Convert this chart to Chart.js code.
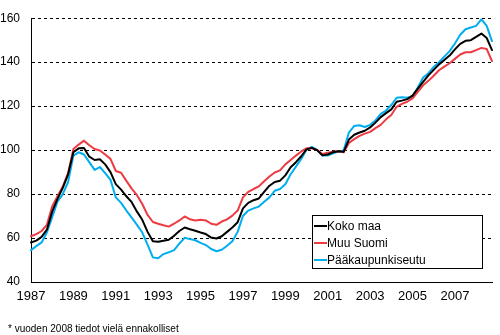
<!DOCTYPE html>
<html>
<head>
<meta charset="utf-8">
<script src="https://cdn.jsdelivr.net/npm/chart.js@4/dist/chart.umd.min.js"></script>
<style>
  html, body { margin: 0; padding: 0; background: #fff; overflow: hidden; }
  #wrap { position: relative; width: 500px; height: 335px; }
  #c { display: block; }
  #note { position: absolute; left: 8px; top: 323px; font: 10px Arial, "Liberation Sans", sans-serif; color: #000; white-space: nowrap; line-height: 12px; }
</style>
</head>
<body>
<div id="wrap">
  <canvas id="c" width="500" height="335"></canvas>
  <div id="note">* vuoden 2008 tiedot vielä ennakolliset</div>
</div>
<script>
// Vanhojen asuntojen hintaindeksi, neljännesvuosittain 1987–2008 (2000 = 100)
const firstYear = 1987;
const lastYear = 2008;
const tickYears = ['1987', '1989', '1991', '1993', '1995', '1997', '1999', '2001', '2003', '2005', '2007'];

const kokoMaa = [
  58, 58.8, 60.5, 63.8, 72, 77.8, 82.8, 89, 99, 100.8, 101, 97,
  95.5, 95.8, 93.5, 90, 84.5, 82, 79, 76.3, 72, 68.3, 62.8, 58.5,
  58.3, 58.8, 59.2, 61, 63.2, 64.8, 64, 63.3, 62.5, 61.8, 60.2, 59.8,
  60.8, 62.8, 64.8, 67.2, 73.5, 76, 77.2, 78, 81, 83.8, 85.5, 86.1,
  88.5, 92.2, 94.5, 97.2, 100.3, 101, 100, 97.6, 98, 99, 99.5, 99.2,
  104.8, 107, 108, 108.8, 110.3, 112.5, 115, 116.8, 118.5, 122, 122.5, 123.2,
  124.8, 128, 131, 134, 136.5, 139, 141, 143, 145.8, 148.3, 149.7, 150,
  151.5, 153, 151, 145.5
];
const muuSuomi = [
  60.8, 61.8, 63.2, 66, 74.5, 79, 83.5, 89.5, 100.5, 102.5, 104.3, 102.2,
  100.5, 99.8, 98, 96, 90.5, 89.7, 86, 82.5, 79.5, 75.5, 70.5, 67.3,
  66.5, 65.8, 65.2, 66.5, 68, 69.8, 68.5, 68, 68.3, 68, 66.5, 66,
  67.5, 68.5, 70.2, 72.5, 78.5, 81, 82.3, 83.5, 85.8, 88, 89.8, 90.8,
  93.5, 95.5, 97.5, 99.4, 100.8, 100.8, 100, 98.2, 98.8, 99.3, 99.5, 99,
  103.2, 105, 106.5, 107.5, 108.3, 110, 111.5, 114, 116, 119.7, 121, 122,
  123.5, 126.5, 129.5, 131.5, 133.8, 136.3, 138, 139.5, 141.5, 143.5, 144.5, 144.5,
  145.5, 146.5, 146, 140.5
];
const paakaupunkiseutu = [
  54.5, 56.3, 58, 62.5, 69.5, 76.5, 80, 85.5, 97.5, 99, 98, 94.5,
  91, 92.3, 89.5, 86.5, 78.5, 76, 72.5, 69.3, 66, 62.5, 57, 51.2,
  50.8, 52.7, 53.5, 54.5, 57.5, 60.1, 59.5, 59, 57.8, 56.8, 55, 54,
  54.7, 56.5, 58.5, 62.8, 70, 72.5, 73.5, 74.3, 76.5, 78.5, 81.5, 82.3,
  84.5, 89, 92.5, 96, 100.3, 101.5, 100, 97.5, 97.5, 98.5, 99.3, 99.8,
  108, 111, 111.3, 110.5, 111.5, 113.5, 116.5, 118, 120.5, 123.8, 124, 123.8,
  124.5, 128.5, 133, 135, 137.8, 140, 142.5, 145, 148.5, 152.5, 155, 155.8,
  156.5, 159.5, 156.5, 149.6
];

// Neljännesvuodet 1987Q1 ... 2008Q4
const quarters = [];
for (let y = firstYear; y <= lastYear; y++) {
  for (let q = 1; q <= 4; q++) quarters.push(y + 'Q' + q);
}

const FONT = 'Arial, "Liberation Sans", sans-serif';

// Selite piirretään kuva-alueen sisään kehystettyyn laatikkoon
const boxLegend = {
  id: 'boxLegend',
  afterDraw(chart) {
    const ctx = chart.ctx;
    const x0 = 312, y0 = 215, w = 170, h = 53;
    ctx.save();
    ctx.fillStyle = '#fff';
    ctx.fillRect(x0, y0, w, h);
    ctx.strokeStyle = '#000';
    ctx.lineWidth = 1;
    ctx.strokeRect(x0 + 0.5, y0 + 0.5, w, h);
    ctx.font = '12px ' + FONT;
    ctx.textBaseline = 'middle';
    ctx.fillStyle = '#000';
    chart.data.datasets.forEach((ds, i) => {
      const cy = y0 + 11 + i * 17;
      ctx.strokeStyle = ds.borderColor;
      ctx.lineWidth = 2;
      ctx.beginPath();
      ctx.moveTo(x0 + 2, cy);
      ctx.lineTo(x0 + 15, cy);
      ctx.stroke();
      ctx.fillText(ds.label, x0 + 15, cy + 0.5);
    });
    ctx.restore();
  }
};

new Chart(document.getElementById('c'), {
  type: 'line',
  data: {
    labels: quarters,
    datasets: [
      { label: 'Koko maa', data: kokoMaa, borderColor: '#000000' },
      { label: 'Muu Suomi', data: muuSuomi, borderColor: '#EE3A43' },
      { label: 'Pääkaupunkiseutu', data: paakaupunkiseutu, borderColor: '#00AEEF' }
    ]
  },
  options: {
    responsive: false,
    animation: false,
    layout: { padding: { top: 8, right: 8, left: 0, bottom: 0 } },
    elements: {
      point: { radius: 0, hoverRadius: 0 },
      line: { tension: 0, borderWidth: 2, fill: false, borderCapStyle: 'round', borderJoinStyle: 'round' }
    },
    plugins: { legend: { display: false }, tooltip: { enabled: false } },
    scales: {
      x: {
        type: 'category',
        offset: false,
        grid: { display: false, drawTicks: false, tickLength: 0 },
        border: { display: true, color: '#000', width: 1 },
        ticks: {
          autoSkip: false,
          maxRotation: 0,
          minRotation: 0,
          padding: 7,
          color: '#000',
          font: { family: FONT, size: 13 },
          callback(value, index) {
            const lab = quarters[index];
            const yr = lab.slice(0, 4);
            return (lab.endsWith('Q1') && tickYears.includes(yr)) ? yr : '';
          }
        },
        afterFit(scale) { scale.height = 53; }
      },
      y: {
        min: 40,
        max: 160,
        grid: { color: '#000', lineWidth: 1, drawTicks: false },
        border: { display: true, color: '#000', width: 1, dash: [3, 3] },
        ticks: {
          stepSize: 20,
          padding: 11,
          color: '#000',
          font: { family: FONT, size: 12 }
        },
        afterFit(scale) { scale.width = 31; }
      }
    }
  },
  plugins: [boxLegend]
});
</script>
</body>
</html>
